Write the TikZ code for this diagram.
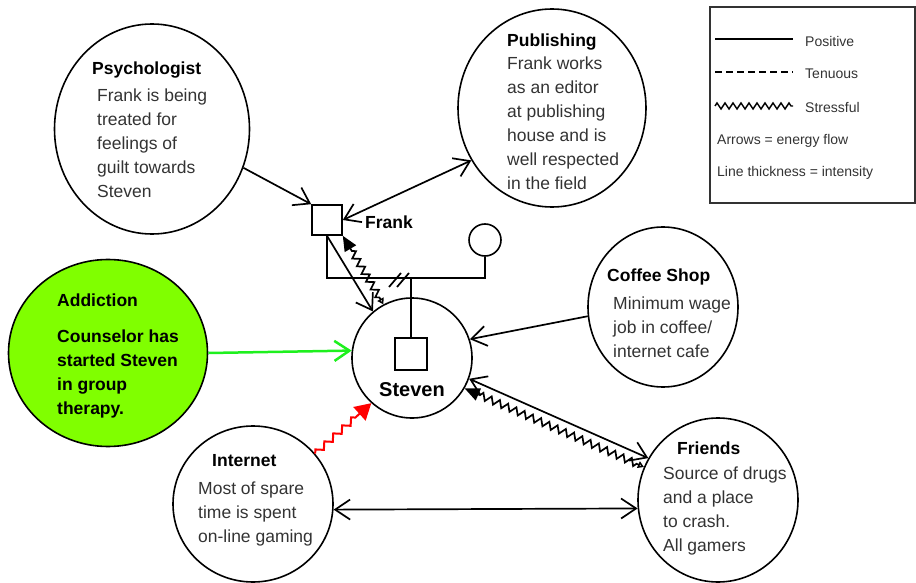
\documentclass[tikz,border=0pt]{standalone}
\usepackage{fontspec}
\setmainfont{Liberation Sans}
\usetikzlibrary{shapes.geometric,arrows.meta,decorations.pathmorphing}
\definecolor{bodygray}{HTML}{333333}
\definecolor{addfill}{HTML}{80FF00}
\definecolor{addline}{HTML}{1EF01E}
\begin{document}
\begin{tikzpicture}[x=1pt,y=-1pt,
  circ/.style={draw, ellipse, line width=1.6pt, inner sep=0pt},
  ttl/.style={anchor=north west, inner sep=0pt, font=\fontsize{17.5}{24}\selectfont\bfseries},
  body/.style={anchor=north west, inner sep=0pt, align=left, font=\fontsize{17.5}{24}\selectfont, text=bodygray},
  legtxt/.style={anchor=west, inner sep=0pt, font=\fontsize{14}{17}\selectfont, text=bodygray},
  conn/.style={line width=1.7pt},
  vb/.tip={Straight Barb[length=15pt,width=20pt]},
  zz/.style={decorate, decoration={zigzag, amplitude=3.5pt, segment length=9pt, pre length=8pt, post length=15pt}},
]
\useasboundingbox (0,0) rectangle (916,583);

% circles
\node[circ, minimum width=195pt, minimum height=210pt] (psych) at (152,129) {};
\node[circ, minimum width=188pt, minimum height=198pt] (pub) at (552,108) {};
\node[circ, minimum width=150pt, minimum height=160pt] (coffee) at (663,307) {};
\node[circ, minimum width=160pt, minimum height=164pt] (friends) at (718,500) {};
\node[circ, minimum width=160pt, minimum height=156pt] (internet) at (253,504) {};
\node[circ, fill=addfill, minimum width=199pt, minimum height=187pt] (addiction) at (108,353) {};
\node[circ, minimum width=120pt, minimum height=120pt] (steven) at (412,358) {};

% texts
\node[ttl] (psychT) at (92,62) {Psychologist};
\node[body] (psychB) at (97,89) {Frank is being\\treated for\\feelings of\\guilt towards\\Steven};
\node[ttl] (pubT) at (507,34) {Publishing};
\node[body] (pubB) at (507,57) {Frank works\\as an editor\\at publishing\\house and is\\well respected\\in the field};
\node[ttl] (coffeeT) at (607,269) {Coffee Shop};
\node[body] (coffeeB) at (613,297) {Minimum wage\\job in coffee/\\internet cafe};
\node[ttl] (friendsT) at (677,442) {Friends};
\node[body] (friendsB) at (663,467) {Source of drugs\\and a place\\to crash.\\All gamers};
\node[ttl] (internetT) at (212,454) {Internet};
\node[body] (internetB) at (198,482) {Most of spare\\time is spent\\on-line gaming};
\node[ttl] (addT) at (57,294) {Addiction};
\node[body, text=black, font=\fontsize{17.5}{24}\selectfont\bfseries] (addB) at (57,330) {Counselor has\\started Steven\\in group\\therapy.};
\node[anchor=base, inner sep=0pt, font=\fontsize{20}{24}\selectfont\bfseries] (stevenT) at (412,396) {Steven};

% genogram
\node[draw, line width=1.6pt, minimum size=30pt, inner sep=0pt] (frank) at (327,220) {};
\node[anchor=west, inner sep=0pt, font=\fontsize{17.5}{24}\selectfont\bfseries] (frankT) at (365,222) {Frank};
\node[draw, circle, line width=1.6pt, minimum size=32pt, inner sep=0pt] (wife) at (485,240) {};
\node[draw, line width=1.6pt, minimum size=32pt, inner sep=0pt] (stevensq) at (411,354) {};
\coordinate (mid) at (411,278);
\draw[conn] (frank.south) |- (mid) -| (wife.south);
\draw[conn] (mid) -- (stevensq.north);
\draw[conn] (389,287) -- (401,273);
\draw[conn] (397,287) -- (409,273);

% connectors
\draw[conn, -{vb}] (psych.-23) -- (frank.north west);
\draw[conn, {vb}-{vb}] (frank.east) -- (pub.213);
\draw[conn, -{vb}] (frank.south) -- (steven.130);
\draw[conn, zz, {Triangle[open,length=6pt,width=7pt]}-{Triangle[length=15pt,width=13pt]}] (steven.118) -- (frank.south east);
\draw[conn, -{vb}] (coffee.187) -- (steven.18);
\draw[conn, {vb}-{vb}] (steven.-20) -- (friends.149);
\draw[conn, zz, {Triangle[open,length=6pt,width=7pt]}-{Triangle[length=15pt,width=13pt]}] (friends.156) -- (steven.-30);
\draw[conn, {vb}-{vb}] (internet.-4) -- (friends.186);
\draw[addline, line width=2.5pt, -{vb}] (addiction.east) -- (steven.173);
\draw[red, line width=2pt, decorate, decoration={zigzag, amplitude=3pt, segment length=12pt, post length=16pt}, -{Triangle[length=16pt,width=18pt]}] (internet.39) -- (steven.228);

% legend
\node[draw=black!80, line width=1.2pt, minimum width=205pt, minimum height=196pt, inner sep=0pt] (legend) at (812.5,105) {};
\draw[conn] (715,39) -- (793,39);
\node[legtxt] (lp) at (805,41) {Positive};
\draw[line width=1.3pt, dash pattern=on 7pt off 4pt] (715,72) -- (793,72);
\node[legtxt] (lt) at (805,74) {Tenuous};
\draw[line width=1.4pt, decorate, decoration={zigzag, amplitude=3pt, segment length=8pt}] (715,106) -- (793,106);
\node[legtxt] (ls) at (805,107) {Stressful};
\node[legtxt] (la) at (717,141) {Arrows = energy flow};
\node[legtxt] (ll) at (717,173) {Line thickness = intensity};
\end{tikzpicture}
\end{document}
